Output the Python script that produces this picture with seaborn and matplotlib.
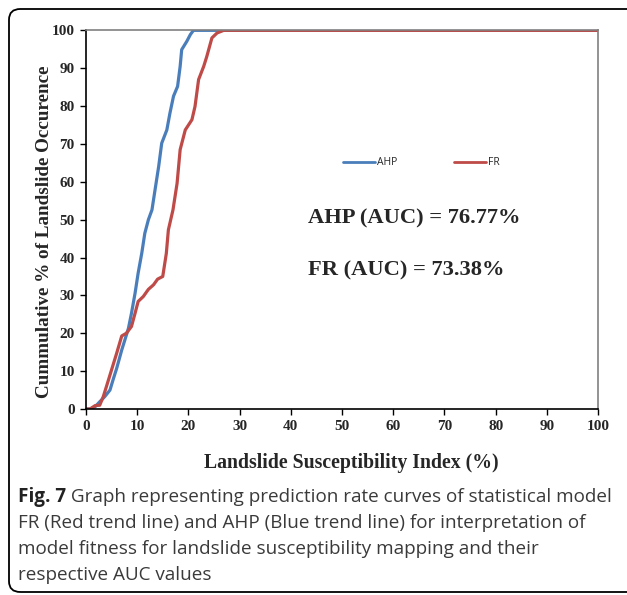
import pandas as pd
import seaborn as sns
import matplotlib.pyplot as plt
from matplotlib.patches import FancyBboxPatch

# prediction rate curves
ahp_x = [0, 0.8, 1.8, 2.7, 3.7, 4.7, 5.3, 6.0, 7.0, 7.6, 8.3, 8.9, 9.6, 10.2, 10.9, 11.5,
         12.2, 12.9, 13.5, 14.2, 14.8, 15.8, 16.4, 17.1, 17.9, 18.4, 18.7, 19.7, 20.4, 21.0, 100]
ahp_y = [0, 0, 0.6, 1.9, 3.3, 5.0, 7.7, 10.7, 15.6, 18.2, 21.3, 25.3, 30.6, 35.9, 41.1, 46.4,
         50.0, 52.6, 57.9, 64.0, 70.2, 73.7, 78.1, 82.6, 85.2, 90.5, 94.9, 97.1, 98.9, 100, 100]

fr_x = [0, 0.8, 1.8, 2.7, 3.4, 4.0, 5.0, 6.0, 7.0, 7.9, 8.9, 9.6, 10.2, 11.2, 12.2, 13.2,
        14.0, 15.0, 15.7, 16.1, 17.0, 17.8, 18.4, 19.4, 20.7, 21.3, 22.0, 23.0, 23.6, 24.6,
        25.6, 26.9, 100]
fr_y = [0, 0, 0.9, 1.0, 3.3, 5.9, 10.3, 14.7, 19.3, 20.0, 21.8, 25.3, 28.4, 29.7, 31.6, 32.8,
        34.3, 35.0, 41.1, 47.3, 52.6, 59.6, 68.5, 73.7, 76.4, 79.9, 87.0, 90.5, 93.1, 98.0,
        99.3, 100, 100]

models = ["AHP", "FR"]
auc_labels = ["AHP (AUC) = 76.77%", "FR (AUC) = 73.38%"]
x_ticks = list(range(0, 101, 10))
y_ticks = list(range(0, 101, 10))

caption_bold = "Fig. 7"
caption_lines = [" Graph representing prediction rate curves of statistical model",
                 "FR (Red trend line) and AHP (Blue trend line) for interpretation of",
                 "model fitness for landslide susceptibility mapping and their",
                 "respective AUC values"]

df = pd.concat([
    pd.DataFrame({"lsi": ahp_x, "cum": ahp_y, "model": "AHP"}),
    pd.DataFrame({"lsi": fr_x, "cum": fr_y, "model": "FR"}),
])

sns.set_style("white")
plt.rcParams['font.family'] = ['Liberation Serif', 'DejaVu Serif']

fig = plt.figure(figsize=(6.27, 5.95), dpi=100)
ax = fig.add_axes([0.137, 0.3126, 0.817, 0.6364])

sns.lineplot(data=df, x="lsi", y="cum", hue="model", hue_order=models,
             palette={"AHP": "#4a7ebb", "FR": "#be4b48"}, linewidth=2.3, ax=ax,
             sort=False, estimator=None)

ax.set_xlim(0, 100)
ax.set_ylim(0, 100)
ax.set_xticks(x_ticks)
ax.set_yticks(y_ticks)
ax.tick_params(axis="both", direction="out", length=4, width=1, color="black",
               labelsize=11, pad=4)
for lab in ax.get_xticklabels() + ax.get_yticklabels():
    lab.set_fontweight("bold")
ax.xaxis.set_tick_params(bottom=True)
ax.yaxis.set_tick_params(left=True)

for side in ["left", "bottom"]:
    ax.spines[side].set_color("black")
    ax.spines[side].set_linewidth(1.2)
for side in ["right", "top"]:
    ax.spines[side].set_color("#808080")
    ax.spines[side].set_linewidth(1.2)

ax.set_xlabel("Landslide Susceptibility Index (%)", fontsize=14.2, fontweight="bold")
ax.set_ylabel("Cummulative % of Landslide Occurence", fontsize=13.8, fontweight="bold")
ax.xaxis.set_label_coords(0.518, -0.115)
ax.yaxis.set_label_coords(-0.065, 0.467)

leg = ax.legend(loc="center", bbox_to_anchor=(0.655, 0.65), ncol=2, frameon=False,
                prop={"family": "Open Sans", "size": 7.5}, handlelength=3.0,
                handletextpad=0.2, columnspacing=5.5)
for line in leg.get_lines():
    line.set_linewidth(2.0)

ax.text(0.434, 0.503, auc_labels[0], transform=ax.transAxes, fontsize=16.2,
        fontweight="bold", va="center", ha="left")
ax.text(0.434, 0.366, auc_labels[1], transform=ax.transAxes, fontsize=16.2,
        fontweight="bold", va="center", ha="left")

# caption below the chart
cap_color = "#3a3a3a"
line_ys = [497, 523, 549, 575]
x0 = 18 / 627
bold_txt = fig.text(x0, 1 - line_ys[0] / 595, caption_bold, family="Open Sans",
                    fontweight="bold", fontsize=13.6, color="#222222", va="center")
fig.canvas.draw()
bb = bold_txt.get_window_extent(renderer=fig.canvas.get_renderer())
fig.text(bb.x1 / fig.bbox.width, 1 - line_ys[0] / 595, caption_lines[0], family="Open Sans",
         fontsize=13.6, color=cap_color, va="center")
for txt, yy in zip(caption_lines[1:], line_ys[1:]):
    fig.text(x0, 1 - yy / 595, txt, family="Open Sans", fontsize=13.6, color=cap_color,
             va="center")

# rounded frame around figure
frame = FancyBboxPatch((9 / 627, 3 / 595), 640 / 627, 583 / 595,
                       boxstyle="round,pad=0,rounding_size=0.018",
                       transform=fig.transFigure, fill=False, edgecolor="black",
                       linewidth=1.3, clip_on=False)
fig.patches.append(frame)

fig.savefig("out.png", dpi=100)
